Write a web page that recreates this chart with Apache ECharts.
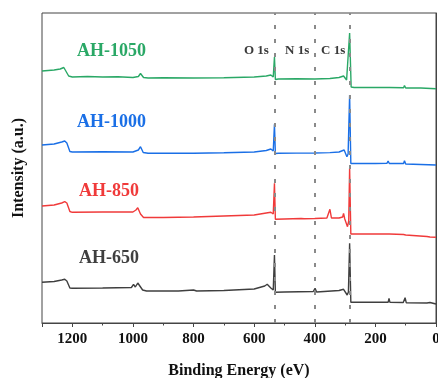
<!DOCTYPE html>
<html>
<head>
<meta charset="utf-8">
<script src="https://cdn.jsdelivr.net/npm/echarts@6/dist/echarts.min.js"></script>
<style>html,body{margin:0;padding:0;background:#fff}#c{width:438px;height:378px}</style>
</head>
<body>
<div id="c"></div>
<script>
// Binding energy (eV) / intensity (a.u., stacked with offsets)
var ah1050 = [[1300,252],[1280,252.5],[1260,253],[1240,254],[1228,255.5],[1222,255],[1212,247],[1200,246],[1150,246.5],[1100,246],[1050,246.3],[1000,245.5],[982,246.5],[975,249.5],[965,245.5],[950,245],[900,245.3],[800,245],[700,245.2],[600,246],[560,247],[545,248],[537,246],[533,266],[530,243.5],[520,244],[460,244.3],[400,244],[350,244.5],[320,245.5],[305,247],[295,243],[290,245],[285,290],[280,236],[270,235.5],[200,235.5],[162,235.5],[158,237],[154,235.5],[107,235.3],[104,237.5],[100,235],[50,235],[0,234.3]];
var ah1000 = [[1300,178],[1260,179],[1235,181],[1225,182],[1218,180],[1208,171.5],[1200,171],[1100,171.2],[1000,171],[982,173],[975,176.3],[966,170.5],[950,169.7],[900,169.9],[800,169.7],[700,170.2],[600,171],[560,172.5],[545,174],[537,172],[533,198.7],[530,169.5],[520,169.7],[460,169.9],[400,170],[350,170.4],[320,171],[303,173],[294,166.3],[290,169],[285,228],[281,159.5],[270,159.5],[200,159.5],[162,159.7],[158,162],[154,159.5],[107,159.5],[104,162.3],[100,159],[50,158.5],[0,158]];
var ah850 = [[1300,117],[1260,118],[1235,120],[1225,121.3],[1218,120],[1208,111.5],[1200,110.7],[1100,111],[1000,111],[990,113],[984,115.3],[975,109],[965,105.5],[900,105.5],[800,106],[700,107],[600,108],[560,110],[545,110.7],[537,109],[533,139.7],[530,103.7],[500,104],[445,104.5],[440,106.3],[435,104.2],[400,104.5],[360,105],[350,113.7],[345,105],[320,105],[308,106],[305,109.7],[301,104],[292,96.3],[288,102],[285,154.7],[281,89],[270,89],[200,89],[162,89],[158,90.7],[154,89],[107,88.5],[104,90.5],[100,88],[30,86.5],[24,88.5],[20,86],[0,85.7]];
var ah650 = [[1300,40.7],[1260,41.5],[1235,43],[1225,43.7],[1218,42],[1208,35],[1200,34.7],[1100,35],[1005,35.5],[998,38.7],[992,36],[984,40],[978,41.3],[968,33],[955,32],[850,32],[800,33],[790,32],[700,32.5],[600,34],[565,37],[557,38.7],[545,35],[537,33],[533,68],[530,30.7],[500,31],[405,31.5],[399,34.7],[394,31],[320,32.5],[305,33.7],[293,28],[289,31],[285,79.7],[281,20.7],[200,20.7],[158,20.7],[155,24.7],[152,20.7],[108,20.5],[102,25.3],[98,20.2],[30,20],[20,20.5],[0,19]];
var seriesNames = ['AH-1050','AH-1000','AH-850','AH-650'];
var seriesColors = ['#2aa866','#1a6fe6','#f03a3a','#3f3f3f'];
var peakPositions = [532, 399, 285];
var peakNames = ['O 1s','N 1s','C 1s'];
var xTicks = [0,200,400,600,800,1000,1200];

var FONT = "'Liberation Serif','Times New Roman',serif";
var chart = echarts.init(document.getElementById('c'), null, {renderer:'canvas'});
var datas = [ah1050, ah1000, ah850, ah650];
var series = datas.map(function(d,i){
  return {
    name: seriesNames[i], type:'line', data:d, showSymbol:false, symbol:'none',
    lineStyle:{color:seriesColors[i], width:1.4}, itemStyle:{color:seriesColors[i]},
    z: 3, animation:false
  };
});
series.push({
  type:'line', data:[], silent:true, animation:false,
  markLine:{
    symbol:['none','none'], silent:true, animation:false,
    label:{show:false},
    lineStyle:{color:'#8a8a8a', type:[4,10], width:2},
    data: peakPositions.map(function(p){return {xAxis:p};})
  }
});
var labelPos = [[77,52],[77,123],[79,192],[79,259]];
var graphics = seriesNames.map(function(n,i){
  return {type:'text', left:labelPos[i][0], top:labelPos[i][1]-10,
    style:{text:n, fill:seriesColors[i], font:'bold 18px '+FONT}};
});
var peakLabelX = [244, 285, 321];
peakNames.forEach(function(n,i){
  graphics.push({type:'text', left:peakLabelX[i], top:44,
    style:{text:n, fill:'#3a3a3a', font:'bold 13px '+FONT}});
});
chart.setOption({
  animation:false,
  grid:{left:42, right:2, top:13, bottom:55, show:true, borderColor:'#444', borderWidth:1, backgroundColor:'transparent', containLabel:false, outerBoundsMode:'none'},
  xAxis:{
    type:'value', min:0, max:1300, interval:200, inverse:true,
    name:'Binding Energy (eV)', nameLocation:'middle', nameGap:40,
    nameTextStyle:{fontFamily:FONT, fontWeight:'bold', fontSize:16, color:'#111'},
    axisLine:{show:true, onZero:false, lineStyle:{color:'#444', width:1}},
    axisTick:{show:true, inside:false, length:4, lineStyle:{color:'#444'}},
    minorTick:{show:true, splitNumber:2, length:2.5, lineStyle:{color:'#444'}},
    splitLine:{show:false},
    axisLabel:{fontFamily:FONT, fontWeight:'bold', fontSize:15, color:'#111', margin:9, showMaxLabel:false, hideOverlap:false,
      formatter:function(v){return xTicks.indexOf(v)>=0 ? String(v) : '';}}
  },
  yAxis:{
    type:'value', min:0, max:310,
    name:'Intensity (a.u.)', nameLocation:'middle', nameGap:15,
    nameTextStyle:{fontFamily:FONT, fontWeight:'bold', fontSize:16, color:'#111'},
    axisLine:{show:true, lineStyle:{color:'#444', width:1}},
    axisTick:{show:false}, axisLabel:{show:false}, splitLine:{show:false}
  },
  graphic: graphics,
  series: series
});
</script>
</body>
</html>
